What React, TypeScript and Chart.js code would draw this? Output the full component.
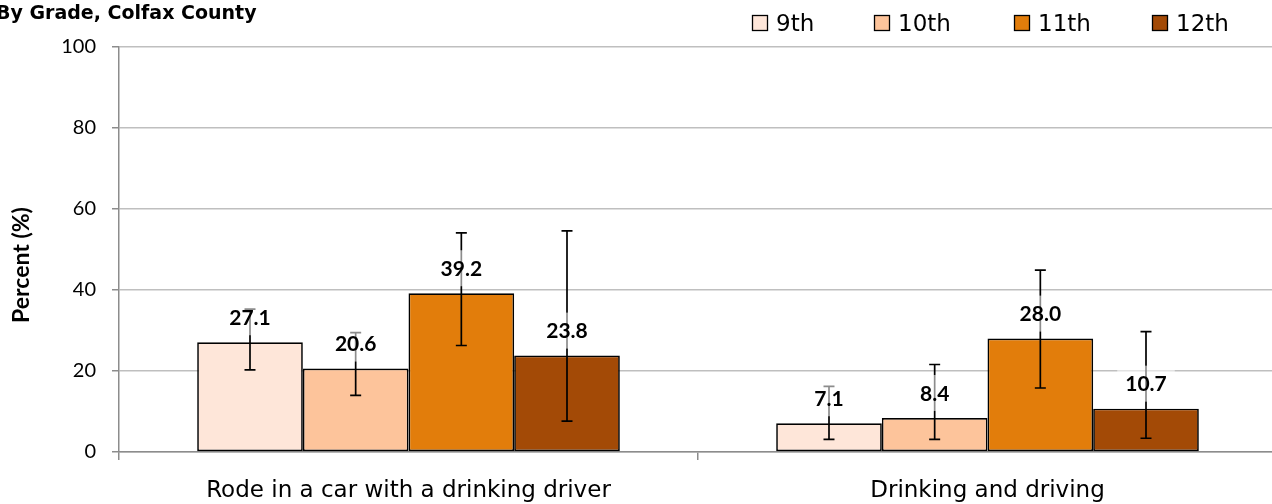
import React, { useEffect, useRef } from "react";
import { Chart, registerables } from "chart.js";

Chart.register(...registerables);

const categories = ["Rode in a car with a drinking driver", "Drinking and driving"];
const grades = ["9th", "10th", "11th", "12th"];
const colors = ["#FEE6D9", "#FDC49B", "#E27D0B", "#A34A06"];

const values9 = [27.1, 7.1];
const values10 = [20.6, 8.4];
const values11 = [39.2, 28.0];
const values12 = [23.8, 10.7];

const low9 = [20.3, 3.1];
const high9 = [35.3, 16.2];
const low10 = [14.0, 3.1];
const high10 = [29.5, 21.6];
const low11 = [26.3, 15.8];
const high11 = [54.1, 44.9];
const low12 = [7.6, 3.4];
const high12 = [54.6, 29.7];

const yTicks = [0, 20, 40, 60, 80, 100];

const seriesValues = [values9, values10, values11, values12];
const seriesLow = [low9, low10, low11, low12];
const seriesHigh = [high9, high10, high11, high12];

const LATO = "Lato, 'Open Sans', sans-serif";
const DEJA = "'DejaVu Sans', sans-serif";

export default function App() {
  const ref = useRef<HTMLCanvasElement | null>(null);

  useEffect(() => {
    document.body.style.margin = "0";
    const canvas = ref.current;
    if (!canvas) return;

    const overlay = {
      id: "overlay",
      afterLayout(chart: any) {
        const x = chart.scales.x;
        const newRight = 1277;
        chart.chartArea.right = newRight;
        chart.chartArea.width = newRight - chart.chartArea.left;
        x.right = newRight;
        x.width = newRight - x.left;
        x.configure();
      },
      afterDatasetsDraw(chart: any) {
        const ctx = chart.ctx;
        const y = chart.scales.y;
        ctx.save();
        chart.data.datasets.forEach((ds: any, di: number) => {
          const meta = chart.getDatasetMeta(di);
          meta.data.forEach((bar: any, i: number) => {
            const x = bar.x;
            const yl = y.getPixelForValue(seriesLow[di][i]);
            const yh = y.getPixelForValue(seriesHigh[di][i]);
            ctx.strokeStyle = "#000";
            ctx.lineWidth = 1.7;
            ctx.beginPath();
            ctx.moveTo(x, yl);
            ctx.lineTo(x, yh);
            ctx.moveTo(x - 5.5, yl);
            ctx.lineTo(x + 5.5, yl);
            ctx.moveTo(x - 5.5, yh);
            ctx.lineTo(x + 5.5, yh);
            ctx.stroke();
          });
        });
        ctx.font = `bold 21px ${LATO}`;
        ctx.textAlign = "center";
        ctx.textBaseline = "middle";
        chart.data.datasets.forEach((ds: any, di: number) => {
          const meta = chart.getDatasetMeta(di);
          meta.data.forEach((bar: any, i: number) => {
            const txt = Number(ds.data[i]).toFixed(1);
            const cx = bar.x;
            const cy = bar.y - 25;
            const w = ctx.measureText(txt).width + 16;
            ctx.fillStyle = "rgba(255,255,255,0.55)";
            ctx.fillRect(cx - w / 2, cy - 18, w, 36);
            ctx.fillStyle = "#000";
            ctx.fillText(txt, cx, cy + 1);
          });
        });
        ctx.restore();
      },
      afterDraw(chart: any) {
        const ctx = chart.ctx;
        ctx.save();
        ctx.font = `bold 19px ${DEJA}`;
        ctx.fillStyle = "#000";
        ctx.textAlign = "left";
        ctx.textBaseline = "alphabetic";
        ctx.fillText("By Grade, Colfax County", -4, 19);
        const legendX = [752, 874, 1014, 1152];
        ctx.font = `23px ${DEJA}`;
        grades.forEach((g, i) => {
          const bx = legendX[i];
          ctx.fillStyle = colors[i];
          ctx.fillRect(bx, 15, 16, 16);
          ctx.strokeStyle = "#000";
          ctx.lineWidth = 1.3;
          ctx.strokeRect(bx + 0.5, 15.5, 15, 15);
          ctx.fillStyle = "#000";
          ctx.textBaseline = "alphabetic";
          ctx.fillText(g, bx + 24, 31);
        });
        ctx.translate(22, 265);
        ctx.rotate(-Math.PI / 2);
        ctx.font = `bold 23px ${LATO}`;
        ctx.textAlign = "center";
        ctx.textBaseline = "middle";
        ctx.fillText("Percent (%)", 0, 0);
        ctx.restore();
      },
    };

    const chart = new Chart(canvas, {
      type: "bar",
      data: {
        labels: categories,
        datasets: grades.map((g, i) => ({
          label: g,
          data: seriesValues[i],
          backgroundColor: colors[i],
          borderColor: "#000",
          borderWidth: 1.7,
          borderSkipped: false,
          categoryPercentage: 0.73,
          barPercentage: 1.0,
        })),
      },
      options: {
        responsive: false,
        animation: false,
        events: [],
        layout: { padding: { top: 47, right: 0, left: 0, bottom: 0 } },
        plugins: {
          legend: { display: false },
          title: { display: false },
          tooltip: { enabled: false },
        },
        scales: {
          x: {
            afterFit(scale: any) {
              scale.height = 52;
            },
            grid: {
              display: true,
              drawOnChartArea: false,
              offset: true,
              tickLength: 8,
              color: "#8c8c8c",
              lineWidth: 1.5,
            },
            border: { display: true, color: "#8c8c8c", width: 1.5 },
            ticks: {
              color: "#000",
              font: { family: DEJA, size: 23 },
              padding: 17,
              maxRotation: 0,
            },
          },
          y: {
            min: 0,
            max: 100,
            afterFit(scale: any) {
              scale.width = 119;
            },
            afterBuildTicks(scale: any) {
              scale.ticks = yTicks.map((v) => ({ value: v }));
            },
            grid: {
              color: "#bfbfbf",
              lineWidth: 1.5,
              tickLength: 7,
              tickColor: "#8c8c8c",
            },
            border: { display: true, color: "#8c8c8c", width: 1.5 },
            ticks: {
              color: "#000",
              font: { family: LATO, size: 20 },
              padding: 16,
            },
          },
        },
      },
      plugins: [overlay],
    });
    return () => chart.destroy();
  }, []);

  return (
    <div style={{ position: "absolute", left: 0, top: 0, width: 1272, height: 504 }}>
      <canvas ref={ref} width={1272} height={504} style={{ width: 1272, height: 504 }} />
    </div>
  );
}
